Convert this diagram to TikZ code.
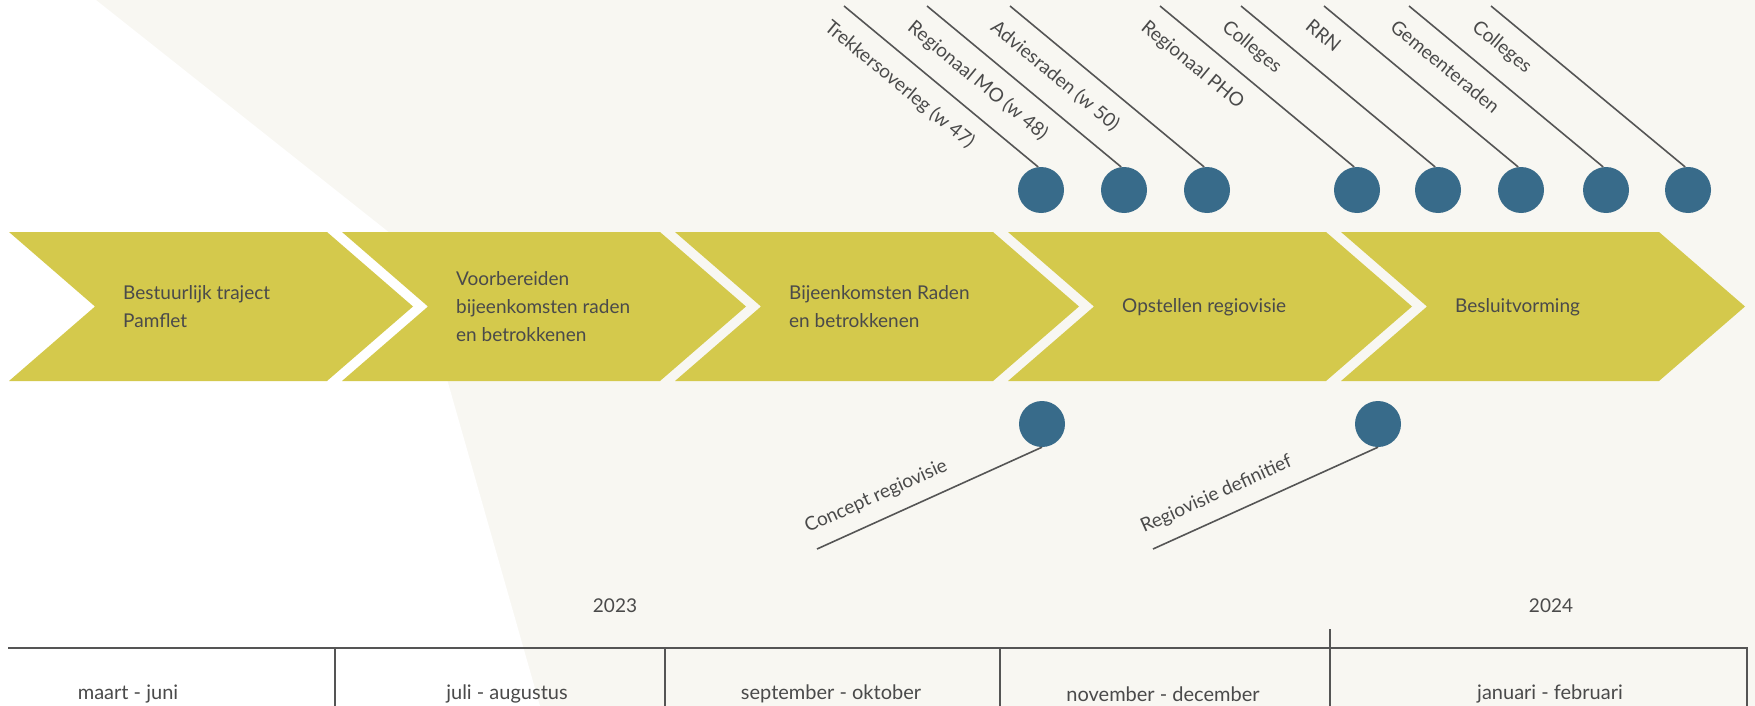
\documentclass[tikz,border=0pt]{standalone}
\usepackage{fontspec}
\setmainfont{Lato}
\usetikzlibrary{calc}
\definecolor{bgoff}{RGB}{248,247,242}
\definecolor{chev}{RGB}{212,201,76}
\definecolor{txt}{RGB}{74,74,74}
\definecolor{dotc}{RGB}{56,107,138}
\definecolor{linec}{RGB}{85,85,85}
\begin{document}
\begin{tikzpicture}[x=1pt,y=-1pt,
  chevtxt/.style={anchor=west, align=left, text=txt, font=\fontsize{19}{28}\selectfont, inner sep=0pt},
  dot/.style={circle, fill=dotc, minimum size=46pt, inner sep=0pt},
  leader/.style={draw=linec, line width=1.6pt},
  toplbl/.style={rotate=-39.5, anchor=north west, inner sep=0pt, text=txt, font=\fontsize{19}{23}\selectfont},
  botlbl/.style={rotate=24.2, anchor=base west, inner sep=0pt, text=txt, font=\fontsize{19}{23}\selectfont},
  yearlbl/.style={text=txt, font=\fontsize{19}{23}\selectfont, inner sep=0pt},
  monthlbl/.style={text=txt, font=\fontsize{20}{24}\selectfont, inner sep=0pt},
  tabline/.style={draw=linec, line width=2.6pt},
  vline/.style={draw=linec, line width=1.8pt},
]
\useasboundingbox (0,0) rectangle (1755,706);
\fill[bgoff] (0,0) rectangle (1755,706);
\fill[white] (0,0) -- (96,0) -- (410,249) -- (540,706) -- (0,706) -- cycle;

% chevrons
\foreach \i in {0,...,4}{
  \pgfmathsetmacro{\xa}{9+333*\i}
  \fill[chev] (\xa,232) -- (\xa+318,232) -- (\xa+404,306.5) -- (\xa+318,381) -- (\xa,381) -- (\xa+86,306.5) -- cycle;
}
\node[chevtxt] (c1) at (123,307) {Bestuurlijk traject\\Pamflet};
\node[chevtxt] (c2) at (456,307) {Voorbereiden\\bijeenkomsten raden\\en betrokkenen};
\node[chevtxt] (c3) at (789,307) {Bijeenkomsten Raden\\en betrokkenen};
\node[chevtxt] (c4) at (1122,307) {Opstellen regiovisie};
\node[chevtxt] (c5) at (1455,307) {Besluitvorming};

% top milestones
\foreach \n/\cx/\lbl in {1/1041/{Trekkersoverleg (w 47)},2/1124/{Regionaal MO (w 48)},3/1207/{Adviesraden (w 50)},4/1357/{Regionaal PHO},5/1438/{Colleges},6/1521/{RRN},7/1606/{Gemeenteraden},8/1688/{Colleges}}{
  \node[dot] (t\n) at (\cx,190) {};
  \coordinate (te\n) at (\cx-197,6);
  \draw[leader] (t\n.97) -- (te\n);
  \node[toplbl] (tl\n) at ($(te\n)+(-11,12)$) {\lbl};
}

% bottom milestones
\foreach \n/\cx/\lbl in {1/1042/{Concept regiovisie},2/1378/{Regiovisie definitief}}{
  \node[dot] (b\n) at (\cx,424) {};
  \coordinate (be\n) at (\cx-225,549);
  \draw[leader] (b\n.south) -- (be\n);
  \node[botlbl] (bl\n) at ($(be\n)+(-9,-16)$) {\lbl};
}

% timeline table
\node[yearlbl] (y1) at (615,606) {2023};
\node[yearlbl] (y2) at (1551,606) {2024};
\draw[tabline] (8,648) -- (1747,648);
\draw[vline] (335,648) -- (335,706);
\draw[vline] (665,648) -- (665,706);
\draw[vline] (1000,648) -- (1000,706);
\draw[vline] (1330,629) -- (1330,706);
\draw[vline] (1747,647) -- (1747,706);
\node[monthlbl] (m1) at (128,694) {maart - juni};
\node[monthlbl] (m2) at (507,694) {juli - augustus};
\node[monthlbl] (m3) at (831,694) {september - oktober};
\node[monthlbl] (m4) at (1163,694) {november - december};
\node[monthlbl] (m5) at (1550,694) {januari - februari};
\end{tikzpicture}
\end{document}
